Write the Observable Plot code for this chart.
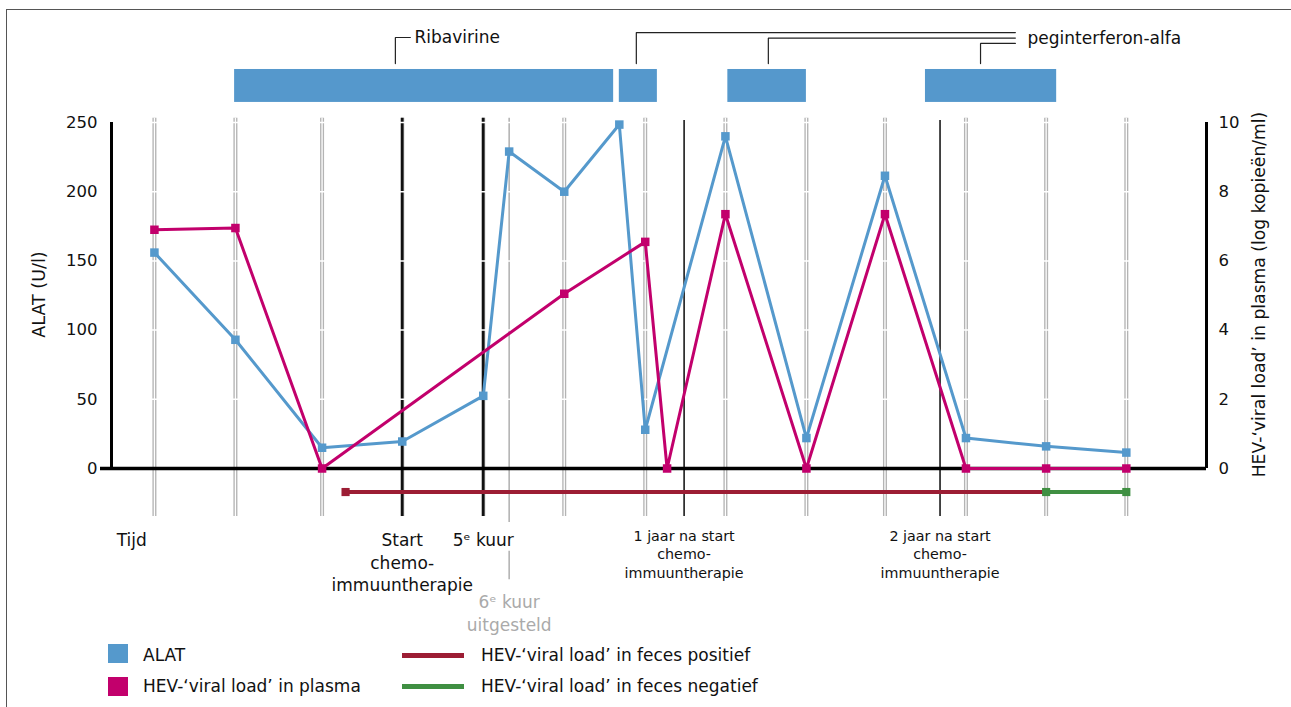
<!DOCTYPE html>
<html><head><meta charset="utf-8">
<script src="https://cdn.jsdelivr.net/npm/d3@7"></script>
<script src="https://cdn.jsdelivr.net/npm/@observablehq/plot@0.6"></script>
<style>
html,body{margin:0;padding:0;background:#fff;overflow:hidden;}
body{width:1291px;height:707px;position:relative;font-family:"DejaVu Sans",sans-serif;}
#frame{position:absolute;left:6px;top:9px;width:1400px;height:800px;border-left:1.5px solid #555;border-top:1.5px solid #555;}
#chart{position:absolute;left:0;top:0;}
.lg{position:absolute;font-size:17px;line-height:20px;color:#111;white-space:nowrap;}
.sw{position:absolute;}
</style></head><body>
<div id="frame"></div><div id="chart"></div><div id="legend"></div>
<script>
// ---- data (time in arbitrary units along the x-axis) ----
const alatT  = [0, 1, 2.07, 3.06, 4.06, 4.38, 5.06, 5.74, 6.06, 7.05, 8.05, 9.02, 10.02, 11.01, 12];
const alatV  = [156, 93, 15, 19.5, 52.5, 229, 200, 248.5, 28, 240, 22, 211.5, 22, 16, 11.5];
const plasmaT = [0, 1, 2.07, 5.06, 6.06, 6.33, 7.05, 8.05, 9.02, 10.02, 11.01, 12];
const plasmaV = [6.9, 6.95, 0, 5.05, 6.55, 0, 7.35, 0, 7.35, 0, 0, 0];
const fecesPositief = [2.36, 11.01];
const fecesNegatief = [11.01, 12];
const measureT = [0, 1, 2.07, 3.06, 4.06, 5.06, 6.06, 7.05, 8.05, 9.02, 10.02, 11.01, 12];
const kuurT = [3.06, 4.06];
const uitgesteldT = [4.38];
const jaarT = [6.54, 9.7];
const treatments = [
  {drug: "Ribavirine", start: 0.99, end: 5.67},
  {drug: "peginterferon-alfa", start: 5.74, end: 6.21},
  {drug: "peginterferon-alfa", start: 7.08, end: 8.05},
  {drug: "peginterferon-alfa", start: 9.52, end: 11.14}
];
const ribaAnchor = 2.975;
const pegAnchors = [5.95, 7.58, 10.2];
const leftTicks = [0, 50, 100, 150, 200, 250];
const plasmaFactor = 25; // 10 log units == 250 U/l
const bottomLabels = [
  {t: -0.28, text: "Tijd"},
  {t: 3.06, text: "Start\nchemo-\nimmuuntherapie"},
  {t: 4.06, text: "5ᵉ kuur"}
];
const jaarLabels = [
  {t: 6.54, text: "1 jaar na start\nchemo-\nimmuuntherapie"},
  {t: 9.7, text: "2 jaar na start\nchemo-\nimmuuntherapie"}
];
const uitgesteldLabel = [{t: 4.38, text: "6ᵉ kuur\nuitgesteld"}];
const legendItems = [
  {label: "ALAT", color: "#5599cc", kind: "square"},
  {label: "HEV-‘viral load’ in plasma", color: "#c2006c", kind: "square"},
  {label: "HEV-‘viral load’ in feces positief", color: "#9c1d34", kind: "line"},
  {label: "HEV-‘viral load’ in feces negatief", color: "#3f8f42", kind: "line"}
];

// ---- colours & layout (value units of the ALAT scale) ----
const BLUE = "#5599cc", MAG = "#c2006c", DRED = "#9c1d34", GREEN = "#3f8f42", BAR = "#5598cc";
const X0 = -0.53, X1 = 12.99;
const gridTop = 253, gridBot = -34.7;
const barLo = 264.5, barHi = 288.3, connBase = 292.6;
const fecesY = -17;

const alat = alatT.map((t, i) => ({t, v: alatV[i]}));
const plasma = plasmaT.map((t, i) => ({t, v: plasmaV[i] * plasmaFactor}));
const pos = fecesPositief.map(t => ({t}));
const neg = fecesNegatief.map(t => ({t}));

const pegLevels = [315.0, 311.0, 307.1];
const pegEnd = 10.63;
const connectors = [
  {z: 0, t: ribaAnchor, y: connBase}, {z: 0, t: ribaAnchor, y: 311.4}, {z: 0, t: 3.16, y: 311.4},
  ...pegAnchors.flatMap((a, i) => [
    {z: i + 1, t: a, y: connBase}, {z: i + 1, t: a, y: pegLevels[i]}, {z: i + 1, t: pegEnd, y: pegLevels[i]}
  ])
];

const chart = Plot.plot({
  width: 1291, height: 707,
  marginLeft: 111, marginRight: 85, marginTop: 122, marginBottom: 239,
  style: {fontFamily: "DejaVu Sans, sans-serif", fontSize: "16.5px", color: "#111", background: "transparent", overflow: "visible"},
  x: {domain: [X0, X1], axis: null},
  y: {domain: [0, 250], axis: null},
  marks: [
    // treatment bars
    Plot.rect(treatments, {x1: "start", x2: "end", y1: barLo, y2: barHi, fill: BAR}),
    Plot.line(connectors, {x: "t", y: "y", z: "z", stroke: "#222", strokeWidth: 1.2, strokeLinejoin: "miter", curve: "linear"}),
    Plot.text(["Ribavirine"], {x: 3.21, y: 311.4, text: d => d, textAnchor: "start", fontSize: 17, fill: "#111"}),
    Plot.text(["peginterferon-alfa"], {x: 10.78, y: 310.7, text: d => d, textAnchor: "start", fontSize: 17, fill: "#111"}),
    // measurement lines (double grey)
    Plot.ruleX(measureT, {y1: gridBot, y2: gridTop, stroke: "#b4b4b4", strokeWidth: 4}),
    Plot.ruleX(measureT, {y1: gridBot, y2: gridTop, stroke: "#fff", strokeWidth: 1.3}),
    Plot.ruleX(kuurT, {y1: gridBot, y2: gridTop, stroke: "#111", strokeWidth: 2.6}),
    Plot.ruleX(uitgesteldT, {y1: -39, y2: gridTop, stroke: "#b4b4b4", strokeWidth: 1.6}),
    Plot.ruleX(uitgesteldT, {y1: -80.4, y2: -59.8, stroke: "#b4b4b4", strokeWidth: 1.6}),
    // white grid breaks
    Plot.ruleY([50, 100, 150, 200, 250], {stroke: "#fff", strokeWidth: 1.5}),
    Plot.ruleX(jaarT, {y1: gridBot, y2: 251.4, stroke: "#1a1a1a", strokeWidth: 1.6}),
    // axes
    Plot.ruleY([0], {stroke: "#000", strokeWidth: 3.5, insetLeft: -11}),
    Plot.ruleX([X0, X1], {y1: 0, y2: 250, stroke: "#000", strokeWidth: 3}),
    Plot.axisY({anchor: "left", ticks: leftTicks, tickSize: 0, tickPadding: 14, label: null, fontSize: 16.5}),
    Plot.axisY({anchor: "right", ticks: leftTicks, tickFormat: d => d / plasmaFactor, tickSize: 0, tickPadding: 12, label: null, fontSize: 16.5}),
    Plot.text(["ALAT (U/l)"], {x: -1.42, y: 125.7, text: d => d, rotate: -90, fontSize: 17.5, fill: "#111"}),
    Plot.text(["HEV-‘viral load’ in plasma (log kopieën/ml)"], {x: 13.65, y: 125.7, text: d => d, rotate: -90, fontSize: 17.2, fill: "#111"}),
    // feces
    Plot.line(pos, {x: "t", y: fecesY, stroke: DRED, strokeWidth: 4}),
    Plot.dot(pos.slice(0, 1), {x: "t", y: fecesY, symbol: "square", r: 4.6, fill: DRED}),
    Plot.line(neg, {x: "t", y: fecesY, stroke: GREEN, strokeWidth: 4}),
    Plot.dot(neg, {x: "t", y: fecesY, symbol: "square", r: 4.6, fill: GREEN}),
    // ALAT
    Plot.line(alat, {x: "t", y: "v", stroke: BLUE, strokeWidth: 3}),
    Plot.dot(alat, {x: "t", y: "v", symbol: "square", r: 4.8, fill: BLUE}),
    // plasma
    Plot.line(plasma, {x: "t", y: "v", stroke: MAG, strokeWidth: 3}),
    Plot.dot(plasma, {x: "t", y: "v", symbol: "square", r: 4.8, fill: MAG}),
    // bottom annotations
    Plot.text(bottomLabels, {x: "t", y: -44.8, text: "text", lineAnchor: "top", lineHeight: 1.32, fontSize: 17, fill: "#111"}),
    Plot.text(uitgesteldLabel, {x: "t", y: -89.6, text: "text", lineAnchor: "top", lineHeight: 1.32, fontSize: 17, fill: "#aaaaaa"}),
    Plot.text(jaarLabels, {x: "t", y: -42.6, text: "text", lineAnchor: "top", lineHeight: 1.31, fontSize: 14.3, fill: "#111"})
  ]
});
document.getElementById("chart").appendChild(chart);

// ---- legend ----
const lg = document.getElementById("legend");
const pos2 = [[108, 644], [108, 677], [402, 652.5], [402, 683.5]];
const txt2 = [[143, 644.5], [143, 676], [481, 644.5], [481, 676]];
legendItems.forEach((d, i) => {
  const s = document.createElement("div");
  s.className = "sw";
  s.style.left = pos2[i][0] + "px"; s.style.top = pos2[i][1] + "px";
  s.style.background = d.color;
  if (d.kind === "square") { s.style.width = "20px"; s.style.height = "19px"; }
  else { s.style.width = "62px"; s.style.height = "5px"; }
  lg.appendChild(s);
  const t = document.createElement("div");
  t.className = "lg";
  t.style.left = txt2[i][0] + "px"; t.style.top = txt2[i][1] + "px";
  t.textContent = d.label;
  lg.appendChild(t);
});
</script></body></html>
